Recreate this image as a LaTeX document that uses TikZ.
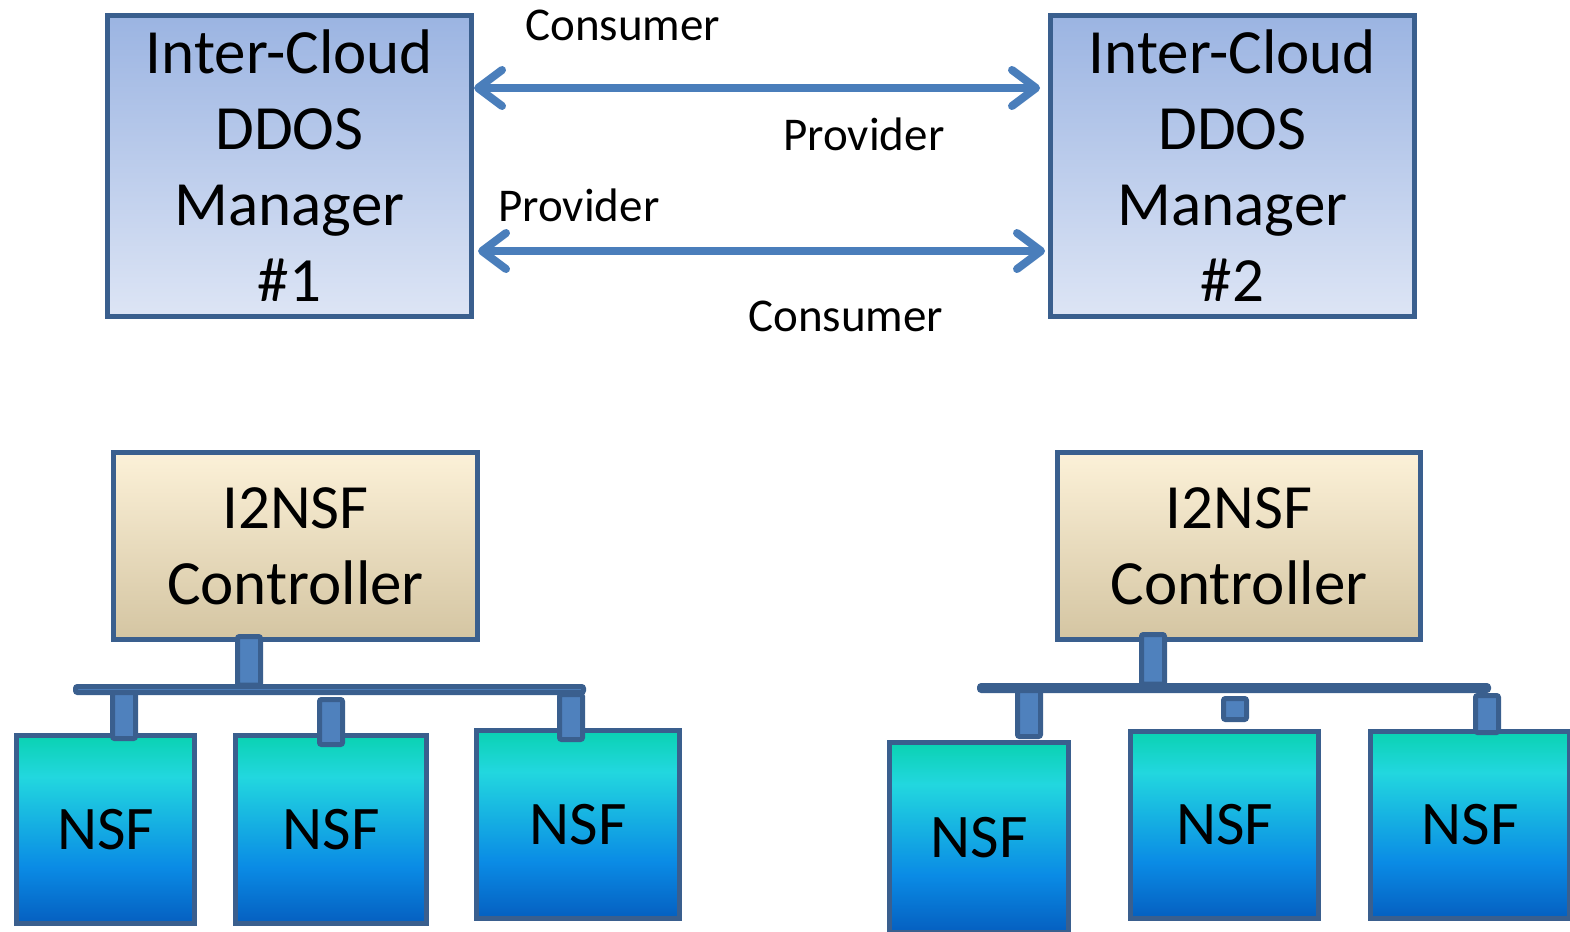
\documentclass[tikz,border=0pt]{standalone}
\usepackage{fontspec}
\setmainfont{Carlito}
\usetikzlibrary{arrows.meta}
\definecolor{bord}{HTML}{3A5F8E}
\definecolor{arrowc}{HTML}{4A7EBB}
\definecolor{stemfill}{HTML}{4F81BD}
\definecolor{mgrtop}{HTML}{9BB4E2}
\definecolor{mgrbot}{HTML}{DDE5F5}
\definecolor{ctltop}{HTML}{FCF1D8}
\definecolor{ctlbot}{HTML}{D4C5A2}
\definecolor{nsftop}{HTML}{0AD2B2}
\definecolor{nsfcyan}{HTML}{22D7DF}
\definecolor{nsfblue}{HTML}{0A8BE5}
\definecolor{nsfbot}{HTML}{055FC0}
\pgfdeclareverticalshading{nsfshade}{100bp}{color(0bp)=(nsfbot); color(25bp)=(nsfbot); color(40bp)=(nsfblue); color(64bp)=(nsfcyan); color(75bp)=(nsftop); color(100bp)=(nsftop)}
\begin{document}
\begin{tikzpicture}[x=0.5pt,y=-0.5pt,
  box/.style={draw=bord, line width=2.5pt, inner sep=0pt, align=center, font=\fontsize{31.5}{38}\selectfont},
  mgr/.style={box, top color=mgrtop, bottom color=mgrbot},
  ctl/.style={box, top color=ctltop, bottom color=ctlbot},
  nsf/.style={box, shade, shading=nsfshade, font=\fontsize{31}{37}\selectfont},
  lab/.style={font=\fontsize{23.5}{28}\selectfont, inner sep=0pt, anchor=base west},
  stem/.style={draw=bord, fill=stemfill, line width=2.5pt, rounded corners=1pt},
  biarrow/.style={draw=arrowc, line width=4pt, {Straight Barb[length=12pt,width=18pt,round]}-{Straight Barb[length=12pt,width=18pt,round]}}
]
\useasboundingbox (0,0) rectangle (1570,932);

% Managers
\node[mgr, minimum width=182pt, minimum height=150.5pt] (m1) at (289.5,166) {Inter-Cloud\\DDOS\\Manager\\\#1};
\node[mgr, minimum width=182pt, minimum height=150.5pt] (m2) at (1232.5,166) {Inter-Cloud\\DDOS\\Manager\\\#2};

% Arrows between managers
\draw[biarrow, shorten <=0pt, shorten >=4pt] ([yshift=39pt]m1.east) -- ([yshift=39pt]m2.west);
\draw[biarrow, shorten <=2pt, shorten >=1.5pt] ([yshift=-42.5pt]m1.east) -- ([yshift=-42.5pt]m2.west);

% Labels
\node[lab] (l1) at (525,40) {Consumer};
\node[lab] (l2) at (783,150) {Provider};
\node[lab] (l3) at (498,221) {Provider};
\node[lab] (l4) at (748,331) {Consumer};

% NSF boxes
\node[nsf, minimum width=89pt, minimum height=94pt] (n1) at (105.5,829.5) {NSF};
\node[nsf, minimum width=95.5pt, minimum height=94pt] (n2) at (331,829.5) {NSF};
\node[nsf, minimum width=101.5pt, minimum height=94pt] (n3) at (578,824.5) {NSF};
\node[nsf, minimum width=89.5pt, minimum height=95pt] (n4) at (979,837.5) {NSF};
\node[nsf, minimum width=94pt, minimum height=93.5pt] (n5) at (1224.5,825) {NSF};
\node[nsf, minimum width=99.5pt, minimum height=93.5pt] (n6) at (1470,825) {NSF};

% Controllers
\node[ctl, minimum width=182pt, minimum height=93.5pt] (c1) at (295.5,546) {I2NSF\\Controller};
\node[ctl, minimum width=181.5pt, minimum height=93.5pt] (c2) at (1239,546) {I2NSF\\Controller};

% Left bus
\draw[stem] (237.5,636.5) rectangle (260.5,685);
\draw[stem] (75.5,686.5) rectangle (583.5,692.5);
\draw[stem] (112.5,692.5) rectangle (135.5,738.5);
\draw[stem] (319.5,699.5) rectangle (342.5,744.5);
\draw[stem] (559.5,694.5) rectangle (582.5,739.5);

% Right bus
\draw[stem] (1141.5,634.5) rectangle (1164.5,684);
\draw[stem] (979.5,685.5) rectangle (1488.5,690.5);
\draw[stem] (1017.5,690.5) rectangle (1040.5,736.5);
\draw[stem] (1223.5,698.5) rectangle (1246.5,719.5);
\draw[stem] (1475.5,695.5) rectangle (1498.5,732.5);
\end{tikzpicture}
\end{document}
